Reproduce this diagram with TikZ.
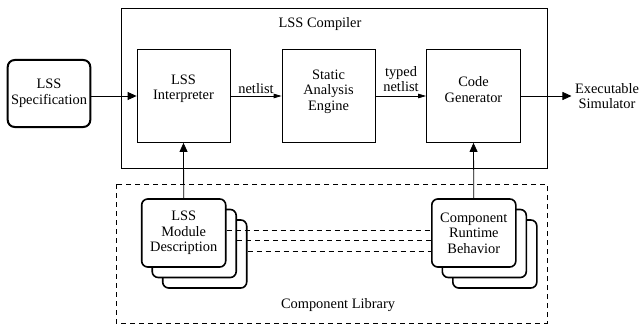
\documentclass[tikz,border=0pt]{standalone}
\usepackage{fontspec}
\setmainfont{Liberation Serif}
\usetikzlibrary{arrows.meta}
\begin{document}
\begin{tikzpicture}[x=1pt,y=-1pt,
  every node/.style={font=\fontsize{14.4}{15.5}\selectfont, inner sep=3.33pt},
  sqbox/.style={draw, line width=0.8pt, minimum width=93pt, minimum height=93pt},
  txt/.style={align=center},
  stk/.style={draw, fill=white, line width=1.6pt, rounded corners=6pt, minimum width=84pt, minimum height=68pt},
  bigarr/.style={line width=0.8pt, -{Triangle[length=9pt,width=8pt]}},
  smallarr/.style={line width=0.8pt, -{Triangle[length=8pt,width=4.5pt]}},
  dline/.style={dashed, line width=0.7pt, dash pattern=on 5pt off 4pt}]
\useasboundingbox (0,0) rectangle (640,329);
% compiler frame
\draw[line width=0.8pt] (121,8) rectangle (547,168);
\node (comp) at (320,24) {LSS Compiler};
% library frame
\draw[dline] (116,184) rectangle (547,323);
\node (lib) at (338,305) {Component Library};
% spec
\node[draw, line width=2pt, rounded corners=7pt, minimum width=82pt, minimum height=67pt, align=center] (spec) at (49,93.5) {LSS\\Specification};
% main boxes
\node[sqbox] (interp) at (183.5,96) {};
\node[txt] (interpT) at (183.5,89) {LSS\\Interpreter};
\node[sqbox] (sae) at (328.5,96) {};
\node[txt] (saeT) at (328.5,91.5) {Static\\Analysis\\Engine};
\node[sqbox, minimum width=94pt] (cg) at (473.5,96) {};
\node[txt] (cgT) at (473.5,89.5) {Code\\Generator};
\node[txt] (exe) at (607,96) {Executable\\Simulator};
% stacks
\node[stk] (lmd3) at (204.7,254) {};
\node[stk] (lmd2) at (194.2,243.5) {};
\node[stk, align=center] (lmd1) at (183.7,233) {LSS\\Module\\Description};
\node[stk] (crb3) at (494.8,254) {};
\node[stk] (crb2) at (484.3,243.5) {};
\node[stk, align=center] (crb1) at (473.8,233) {Component\\Runtime\\Behavior};
% dashed links
\draw[dline] ([yshift=3pt]lmd1.east) -- ([yshift=3pt]lmd1.east -| crb1.west);
\draw[dline] ([yshift=3pt]lmd2.east) -- ([yshift=3pt]lmd2.east -| crb1.west);
\draw[dline] ([yshift=2.7pt]lmd3.east) -- ([yshift=2.7pt]lmd3.east -| crb1.west);
% arrows
\draw[bigarr] (spec.east |- interp.west) -- (interp.west);
\draw[smallarr] (interp.east) -- node[above, inner sep=2pt] (nl) {netlist} (sae.west);
\draw[smallarr] (sae.east) -- (cg.west);
\node[txt] (tnl) at (401,79) {typed\\netlist};
\draw[bigarr] (cg.east) -- (exe.west);
\draw[bigarr] (lmd1.north) -- (interp.south);
\draw[bigarr] (crb1.north) -- (cg.south);
\end{tikzpicture}
\end{document}
